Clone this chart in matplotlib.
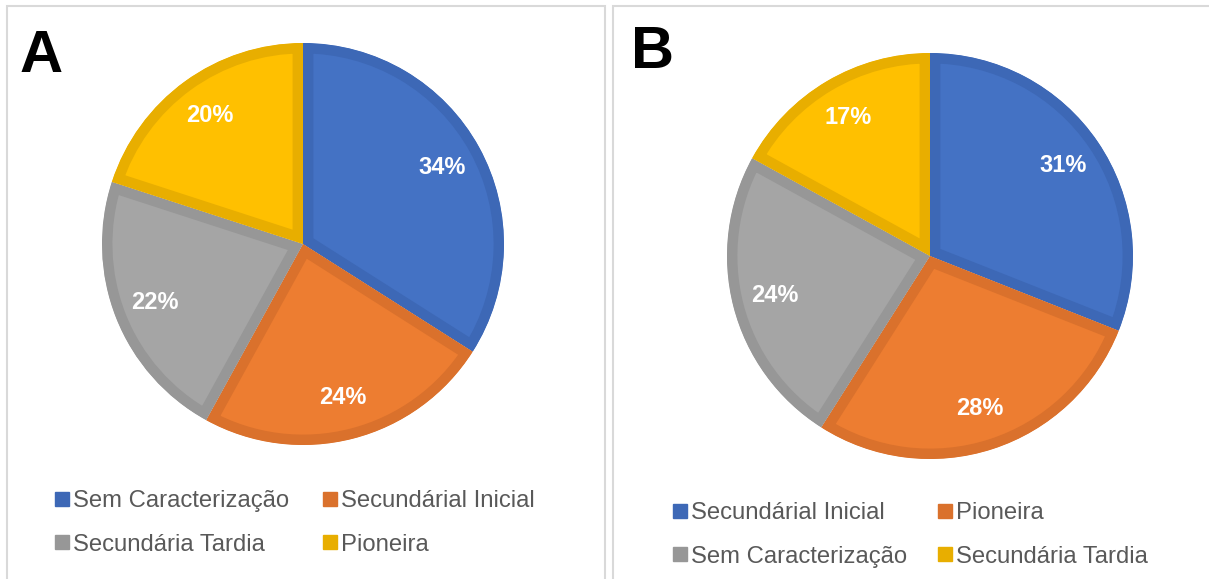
import matplotlib.pyplot as plt
from matplotlib.lines import Line2D
from matplotlib.patches import Rectangle

plt.rcParams['font.family'] = ['Liberation Sans', 'DejaVu Sans']

# Painel A
cats_a = ["Sem Caracterização", "Secundárial Inicial", "Secundária Tardia", "Pioneira"]
vals_a = [34, 24, 22, 20]
# Painel B
cats_b = ["Secundárial Inicial", "Pioneira", "Sem Caracterização", "Secundária Tardia"]
vals_b = [31, 28, 24, 17]

faces = ["#4472C4", "#ED7D31", "#A5A5A5", "#FFC000"]
edges = ["#3D68B6", "#DA712C", "#979797", "#E8AE00"]

W, H = 1209, 579
fig = plt.figure(figsize=(W / 100, H / 100), dpi=100)


def px_axes(cx, cy, r):
    # eixo quadrado centrado em (cx, cy) em pixels (origem no topo)
    return fig.add_axes([(cx - r) / W, 1 - (cy + r) / H, 2 * r / W, 2 * r / H])


def painel(cats, vals, letter, box, center, r, letter_xy, leg_xy, colsp):
    x0, x1 = box
    fig.add_artist(Rectangle((x0 / W, -0.05), (x1 - x0) / W, 1 - 6 / H + 0.05,
                             transform=fig.transFigure, fill=False,
                             edgecolor="#D9D9D9", lw=1.5))
    ax = px_axes(center[0], center[1], r)
    wedges, _, autotexts = ax.pie(vals, colors=faces, startangle=90, counterclock=False,
                                  autopct="%1.0f%%", pctdistance=0.79, radius=1,
                                  wedgeprops=dict(linewidth=15),
                                  textprops=dict(color="white", fontsize=17, fontweight="bold"))
    for w, ec in zip(wedges, edges):
        w.set_edgecolor(ec)
        w.set_clip_path(w)
        w.set_clip_on(True)
    ax.set_xlim(-1, 1)
    ax.set_ylim(-1, 1)
    ax.axis("off")
    # letra do painel (posição da linha de base)
    fig.text(letter_xy[0] / W, 1 - letter_xy[1] / H, letter, fontsize=43, fontweight="bold",
             va="baseline", ha="left")
    handles = [Line2D([], [], marker="s", ls="", color=ec, markersize=9.5) for ec in edges]
    order = [0, 2, 1, 3]
    leg = fig.legend([handles[i] for i in order], [cats[i] for i in order], ncol=2,
                     loc="center left", bbox_to_anchor=(leg_xy[0] / W, 1 - leg_xy[1] / H),
                     frameon=False, fontsize=17.2, handlelength=0.55, handletextpad=0.2,
                     columnspacing=colsp, labelspacing=0.9, borderpad=0, borderaxespad=0)
    for t in leg.get_texts():
        t.set_color("#595959")


painel(cats_a, vals_a, "A", (7, 605), (303, 244), 201, (20, 72), (55, 523), 1.42)
painel(cats_b, vals_b, "B", (613, 1215), (930, 256), 203, (631, 68), (673, 535), 1.3)

fig.savefig("out.png", dpi=100)
